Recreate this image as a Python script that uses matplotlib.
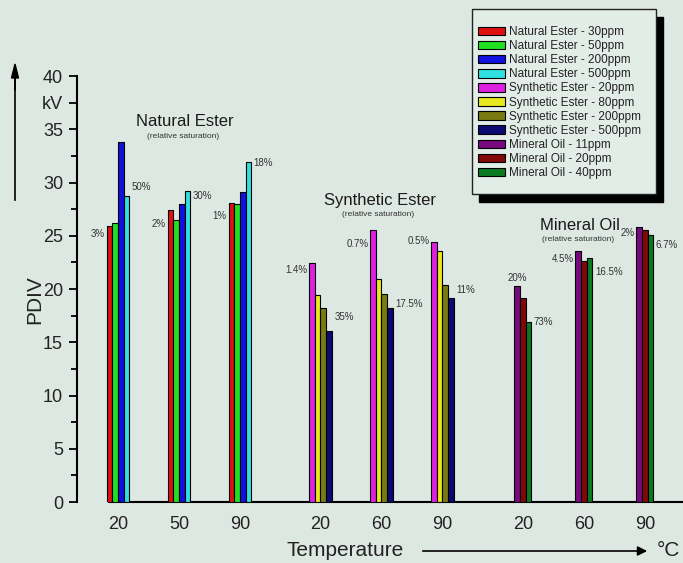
import matplotlib
matplotlib.use('Agg')
import matplotlib.pyplot as plt
from matplotlib.patches import Patch, Rectangle
from matplotlib.ticker import MultipleLocator

plt.rcParams['font.family'] = ['Liberation Sans', 'DejaVu Sans']

# data: PDIV (kV) per oil family, temperature and moisture content
families = ['Natural Ester', 'Synthetic Ester', 'Mineral Oil']
temps = [['20', '50', '90'], ['20', '60', '90'], ['20', '60', '90']]
series = [
    ['Natural Ester - 30ppm', 'Natural Ester - 50ppm', 'Natural Ester - 200ppm', 'Natural Ester - 500ppm'],
    ['Synthetic Ester - 20ppm', 'Synthetic Ester - 80ppm', 'Synthetic Ester - 200ppm', 'Synthetic Ester - 500ppm'],
    ['Mineral Oil - 11ppm', 'Mineral Oil - 20ppm', 'Mineral Oil - 40ppm'],
]
colors = [
    ['#e01010', '#20e020', '#1010e0', '#30e0e0'],
    ['#e020e0', '#e8e820', '#7a7a12', '#0a0a72'],
    ['#780a80', '#820808', '#0a7a22'],
]
# values[family][temperature][series]
natural = [[25.9, 26.2, 33.8, 28.7],
           [27.4, 26.5, 28.0, 29.2],
           [28.1, 28.0, 29.1, 31.9]]
synthetic = [[22.4, 19.4, 18.2, 16.1],
             [25.5, 20.9, 19.5, 18.2],
             [24.4, 23.6, 20.4, 19.2]]
mineral = [[20.3, 19.2, 16.9],
           [23.6, 22.6, 22.9],
           [25.8, 25.5, 25.1]]
values = [natural, synthetic, mineral]

# relative saturation labels: (left label, right label) per temperature group
sat_low = [['3%', '2%', '1%'], ['1.4%', '0.7%', '0.5%'], ['20%', '4.5%', '2%']]
sat_high = [['50%', '30%', '18%'], ['35%', '17.5%', '11%'], ['73%', '16.5%', '6.7%']]
sat_low_y = [[25.2, 26.1, 26.9], [21.8, 24.2, 24.5], [21.0, 22.8, 25.3]]
sat_high_y = [[29.6, 28.7, 31.8], [17.4, 18.6, 19.9], [16.9, 21.6, 24.1]]

bg = '#dde8e2'
fig = plt.figure(figsize=(6.83, 5.63), dpi=100, facecolor=bg)
ax = fig.add_axes([0.1127, 0.1083, 0.887, 0.7567], facecolor=bg)

w = 0.093
fam_gap = 3.32
handles = []
xt, xl = [], []
for f, fam in enumerate(families):
    n = len(series[f])
    for g, t in enumerate(temps[f]):
        xc = f * fam_gap + g
        xt.append(xc)
        xl.append(t)
        for j in range(n):
            x = xc + (j - (n - 1) / 2) * w
            ax.bar(x, values[f][g][j], width=w, color=colors[f][j],
                   edgecolor='black', linewidth=0.8, zorder=3)
        left = xc - n / 2 * w
        right = xc + n / 2 * w
        if f == 2 and g == 0:
            ax.text(xc - w, sat_low_y[f][g], sat_low[f][g], ha='center', va='center',
                    fontsize=7, color='#333333')
        else:
            ax.text(left - 0.03, sat_low_y[f][g], sat_low[f][g], ha='right', va='center',
                    fontsize=7, color='#333333')
        ax.text(right + 0.04, sat_high_y[f][g], sat_high[f][g], ha='left', va='center',
                fontsize=7, color='#333333')
    for j in range(n):
        handles.append(Patch(facecolor=colors[f][j], edgecolor='black', linewidth=0.8,
                             label=series[f][j]))

# family titles
title_y = [35.7, 28.3, 26.0]
title_dx = [0.09, -0.02, -0.07]
for f, fam in enumerate(families):
    xc = f * fam_gap + 1 + title_dx[f]
    ax.text(xc, title_y[f], fam, ha='center', va='center', fontsize=12, color='#1a1a1a')
    ax.text(xc - 0.03, title_y[f] - 1.35, '(relative saturation)', ha='center', va='center',
            fontsize=6, color='#333333')

ax.set_xlim(-0.672, 9.26)
ax.set_ylim(0, 40)
ax.set_xticks(xt)
ax.set_xticklabels(xl, fontsize=13, color='#222222')
ax.tick_params(axis='x', length=0, pad=10)

ax.yaxis.set_minor_locator(MultipleLocator(2.5))
yt = [0, 5, 10, 15, 20, 25, 30, 35, 37.5, 40]
ax.set_yticks(yt)
ax.set_yticklabels(['0', '5', '10', '15', '20', '25', '30', '35', 'kV', '40'])
ax.tick_params(axis='y', which='major', length=6, width=1.3, labelsize=13,
               labelcolor='#222222', pad=4)
ax.tick_params(axis='y', which='minor', length=4, width=1.3)

for s in ['top', 'right']:
    ax.spines[s].set_visible(False)
ax.spines['left'].set_linewidth(1.5)
ax.spines['bottom'].set_linewidth(1.5)
ax.spines['bottom'].set_bounds(-0.15, 9.26)

# axis titles with arrows
fig.text(35 / 683, 1 - 300 / 563, 'PDIV', rotation=90, ha='center', va='center',
         fontsize=15, color='#222222')
fig.add_artist(plt.Line2D([15 / 683, 15 / 683], [1 - 200 / 563, 1 - 82 / 563],
                          color='black', linewidth=1.2))
fig.patches.append(matplotlib.patches.FancyArrow(
    15 / 683, 1 - 90 / 563, 0, 12 / 563, width=0.0001, head_width=7 / 683,
    head_length=14 / 563, color='black', transform=fig.transFigure, figure=fig))

fig.text(345 / 683, 1 - 551 / 563, 'Temperature', ha='center', va='center',
         fontsize=15, color='#222222')
fig.add_artist(matplotlib.patches.FancyArrowPatch(
    (420 / 683, 1 - 551 / 563), (650 / 683, 1 - 551 / 563),
    transform=fig.transFigure, arrowstyle='-|>', mutation_scale=14,
    color='black', linewidth=1.2))
fig.text(668 / 683, 1 - 551 / 563, '\u00b0C', ha='center', va='center',
         fontsize=15, color='#222222')

# legend box with black drop shadow (pixel coordinates, origin bottom-left)
H = 563
box_x0, box_x1, box_top, box_bot = 472, 656, 9, 194
fig.add_artist(Rectangle((box_x0 + 7, H - box_bot - 8), box_x1 - box_x0, box_bot - box_top,
                         transform=None, facecolor='black', edgecolor='black', zorder=8))
fig.add_artist(Rectangle((box_x0, H - box_bot), box_x1 - box_x0, box_bot - box_top,
                         transform=None, facecolor='#e3ede8', edgecolor='#222222',
                         linewidth=1.0, zorder=9))
leg = fig.legend(handles=handles, loc='upper left',
                 bbox_to_anchor=(478 / 683, 1 - 26 / 563), fontsize=8.5,
                 handlelength=2.3, handleheight=0.75, labelspacing=0.18,
                 handletextpad=0.35, borderpad=0, borderaxespad=0,
                 frameon=False, labelcolor='#222222')
leg.set_zorder(10)

fig.savefig('out.png', dpi=100, facecolor=bg)
